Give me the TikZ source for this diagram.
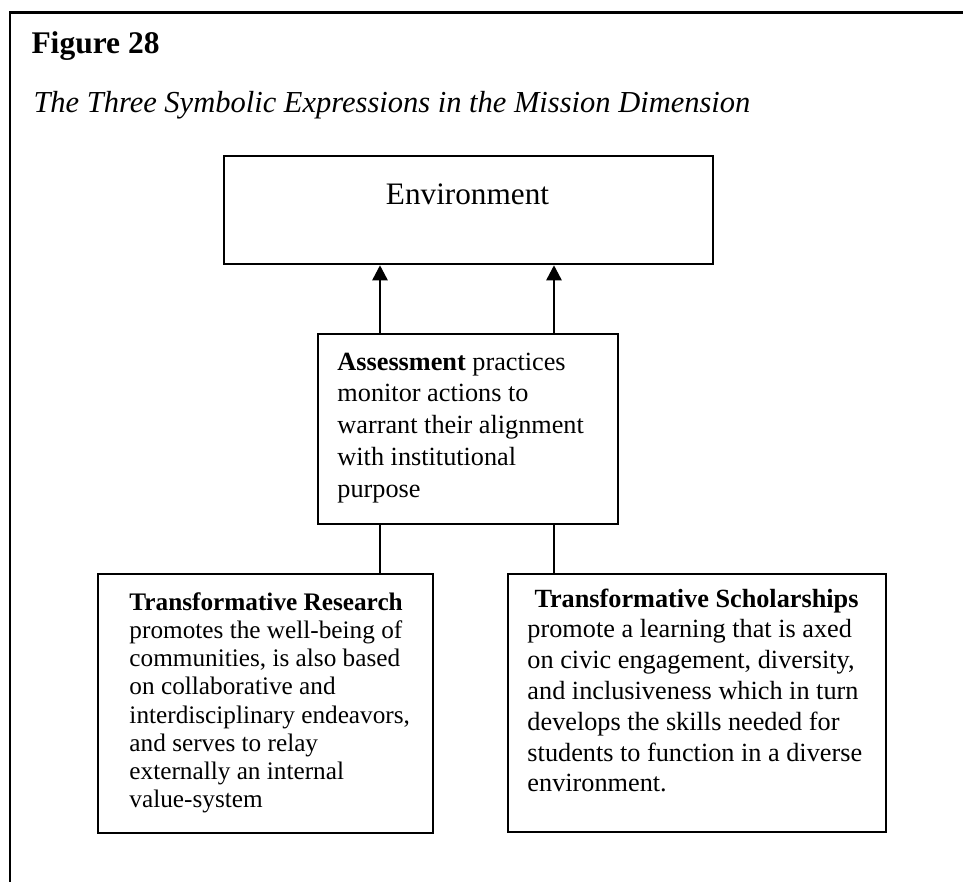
\documentclass[tikz,border=0pt]{standalone}
\usepackage{fontspec}
\setmainfont{Liberation Serif}
\usetikzlibrary{arrows.meta}
\begin{document}
\begin{tikzpicture}[x=0.4pt,y=-0.4pt,
  box/.style={draw,line width=0.9pt,rectangle,inner sep=0pt,anchor=north west},
  txt/.style={anchor=base west,inner sep=0pt},
  link/.style={line width=1pt},
  up/.style={link,-{Triangle[length=6pt,width=6pt]}}]
\useasboundingbox (0,0) rectangle (963,882);
% open frame: left and top rules
\draw[line width=0.85pt] (10,882) -- (10,12.5) -- (963,12.5);

% caption
\node[txt] (fig) at (31,53) {\fontsize{12.6}{14}\selectfont\bfseries Figure 28};
\node[txt] (ttl) at (33,112) {\fontsize{12.2}{14}\selectfont\itshape The Three Symbolic Expressions in the Mission Dimension};

% boxes
\node[box,minimum width=195.6pt,minimum height=43.2pt] (env) at (223,155) {};
\node[box,minimum width=120pt,minimum height=76pt] (assess) at (317,333) {};
\node[box,minimum width=134pt,minimum height=103.6pt] (research) at (97,573) {};
\node[box,minimum width=151.2pt,minimum height=103.2pt] (scholar) at (507,573) {};

% box texts
\node[anchor=base,inner sep=0pt] (envtext) at (467.5,204) {\fontsize{12.5}{14}\selectfont Environment};
\node[txt] (assesstext) at (337,370) {\parbox[t]{118pt}{\fontsize{10.5}{12.7}\selectfont\raggedright
  \textbf{Assessment} practices\\monitor actions to\\warrant their alignment\\with institutional\\purpose}};
\node[txt] (researchtext) at (129,610) {\parbox[t]{130pt}{\fontsize{10.1}{11.3}\selectfont\raggedright
  \textbf{Transformative Research}\\promotes the well-being of\\communities, is also based\\on collaborative and\\interdisciplinary endeavors,\\and serves to relay\\externally an internal\\value-system}};
\node[txt] (scholartext) at (527,607) {\parbox[t]{160pt}{\fontsize{10.5}{12.32}\selectfont\raggedright
  \hspace*{2.8pt}\textbf{Transformative Scholarships}\\promote a learning that is axed\\on civic engagement, diversity,\\and inclusiveness which in turn\\develops the skills needed for\\students to function in a diverse\\environment.}};

% connectors
\coordinate (cl) at (380,0);
\coordinate (cr) at (554,0);
\draw[up] (assess.north -| cl) -- (env.south -| cl);
\draw[up] (assess.north -| cr) -- (env.south -| cr);
\draw[link] (assess.south -| cl) -- (research.north -| cl);
\draw[link] (assess.south -| cr) -- (scholar.north -| cr);
\end{tikzpicture}
\end{document}
